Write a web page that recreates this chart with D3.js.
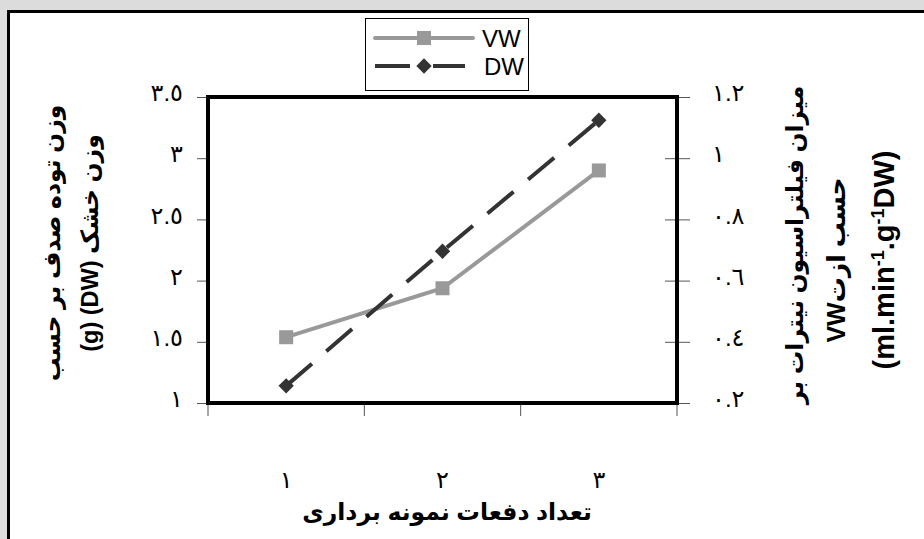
<!DOCTYPE html>
<html>
<head>
<meta charset="utf-8">
<script src="https://cdn.jsdelivr.net/npm/d3@7"></script>
<style>
  html, body { margin: 0; padding: 0; background: #dcdcdc; }
  svg { display: block; }
  text { font-family: "Liberation Sans", Arial, "DejaVu Sans", sans-serif; }
</style>
</head>
<body>
<svg id="chart" width="924" height="539"></svg>
<script>
// ---- data ----
const categories = ["1", "2", "3"];
const categoryLabels = ["١", "٢", "٣"];
const seriesNames = ["VW", "DW"];
const dwValues = [1.14, 2.24, 3.31];   // left axis
const vwValues = [0.415, 0.575, 0.96]; // right axis
const leftTicks = [1, 1.5, 2, 2.5, 3, 3.5];
const leftTickLabels = ["١", "١.٥", "٢", "٢.٥", "٣", "٣.٥"];
const rightTicks = [0.2, 0.4, 0.6, 0.8, 1.0, 1.2];
const rightTickLabels = ["٠.٢", "٠.٤", "٠.٦", "٠.٨", "١", "١.٢"];
const xTitle = "تعداد دفعات نمونه برداری";
const leftTitleLines = ["وزن توده صدف بر حسب", "وزن خشک (DW) (g)"];
const rightTitleLine1 = "میزان فیلتراسیون نیترات بر";
const rightTitleLine2 = "حسب ازتVW";

const svg = d3.select("#chart");

// outer frame
svg.append("rect").attr("x", 8.5).attr("y", 11.5).attr("width", 1000).attr("height", 600)
  .attr("fill", "#fff").attr("stroke", "#000").attr("stroke-width", 3);

const P = {left: 208, right: 677, top: 97, bottom: 403};

const x = d3.scaleBand().domain(categories).range([P.left, P.right]);
const yL = d3.scaleLinear().domain([1, 3.5]).range([P.bottom, P.top]);
const yR = d3.scaleLinear().domain([0.2, 1.2]).range([P.bottom, P.top]);
const cx = c => x(c) + x.bandwidth() / 2;

// left axis
const gL = svg.append("g").attr("transform", `translate(${P.left},0)`)
  .call(d3.axisLeft(yL).tickValues(leftTicks).tickSize(11).tickPadding(14)
    .tickFormat((d, i) => leftTickLabels[i]));
gL.select(".domain").remove();
gL.selectAll(".tick line").attr("stroke", "#555");
gL.selectAll(".tick text").attr("font-size", 24).attr("fill", "#000").attr("dy", "0.15em");

// right axis (ticks crossing)
const gR = svg.append("g").attr("transform", `translate(${P.right},0)`)
  .call(d3.axisRight(yR).tickValues(rightTicks).tickSize(13).tickPadding(22)
    .tickFormat((d, i) => rightTickLabels[i]));
gR.select(".domain").remove();
gR.selectAll(".tick line").attr("stroke", "#555").attr("x1", -12);
gR.selectAll(".tick text").attr("font-size", 24).attr("fill", "#000").attr("dy", "0.15em");

// bottom axis: boundary ticks
const boundaries = [P.left].concat(categories.map(c => x(c) + x.bandwidth()));
svg.append("g").selectAll("line").data(boundaries).join("line")
  .attr("x1", d => d).attr("x2", d => d).attr("y1", P.bottom).attr("y2", P.bottom + 13)
  .attr("stroke", "#555");
svg.append("g").selectAll("text").data(categories).join("text")
  .attr("x", d => cx(d)).attr("y", 488).attr("text-anchor", "middle")
  .attr("font-size", 24).text((d, i) => categoryLabels[i]);

// plot border
svg.append("rect").attr("x", P.left).attr("y", P.top)
  .attr("width", P.right - P.left).attr("height", P.bottom - P.top)
  .attr("fill", "none").attr("stroke", "#000").attr("stroke-width", 4);

// VW line (right axis)
const lineVW = d3.line().x((d, i) => cx(categories[i])).y(d => yR(d));
svg.append("path").datum(vwValues).attr("d", lineVW)
  .attr("fill", "none").attr("stroke", "#999").attr("stroke-width", 4);
svg.append("g").selectAll("rect").data(vwValues).join("rect")
  .attr("x", (d, i) => cx(categories[i]) - 7).attr("y", d => yR(d) - 7)
  .attr("width", 14).attr("height", 14).attr("fill", "#999");

// DW line (left axis)
const lineDW = d3.line().x((d, i) => cx(categories[i])).y(d => yL(d));
svg.append("path").datum(dwValues).attr("d", lineDW)
  .attr("fill", "none").attr("stroke", "#333").attr("stroke-width", 4)
  .attr("stroke-dasharray", "34,19");
const diamond = d3.symbol().type(d3.symbolDiamond2).size(150);
svg.append("g").selectAll("path").data(dwValues).join("path")
  .attr("transform", (d, i) => `translate(${cx(categories[i])},${yL(d)})`)
  .attr("d", diamond).attr("fill", "#333");

// legend
const lg = svg.append("g");
lg.append("rect").attr("x", 365.5).attr("y", 18.5).attr("width", 163).attr("height", 72)
  .attr("fill", "#fff").attr("stroke", "#000").attr("stroke-width", 1);
lg.append("line").attr("x1", 375).attr("x2", 473).attr("y1", 38).attr("y2", 38)
  .attr("stroke", "#999").attr("stroke-width", 4).attr("stroke-linecap", "round");
lg.append("rect").attr("x", 417).attr("y", 31).attr("width", 14).attr("height", 14).attr("fill", "#999");
lg.append("line").attr("x1", 375).attr("x2", 465).attr("y1", 66).attr("y2", 66)
  .attr("stroke", "#333").attr("stroke-width", 4).attr("stroke-dasharray", "35,23");
lg.append("path").attr("transform", "translate(424,66)").attr("d", diamond).attr("fill", "#333");
lg.append("text").attr("x", 482).attr("y", 47).attr("font-size", 24).text(seriesNames[0]);
lg.append("text").attr("x", 484).attr("y", 75).attr("font-size", 24).text(seriesNames[1]);

// x title
svg.append("text").attr("x", 447).attr("y", 520).attr("text-anchor", "middle")
  .attr("font-size", 23.5).attr("font-weight", "bold").attr("direction", "rtl")
  .text(xTitle);

// left title
const lt = svg.append("g");
leftTitleLines.forEach((t, i) => {
  lt.append("text").attr("transform", `translate(${60 + i * 38},243) rotate(-90)`)
    .attr("text-anchor", "middle").attr("font-size", 23.5).attr("font-weight", "bold")
    .attr("direction", "rtl").text(t);
});

// right title
const rt = svg.append("g");
rt.append("text").attr("transform", `translate(803,245) rotate(-90)`)
  .attr("text-anchor", "middle").attr("font-size", 23.5).attr("font-weight", "bold")
  .attr("direction", "rtl").text(rightTitleLine1);
rt.append("text").attr("transform", `translate(845,260) rotate(-90)`)
  .attr("text-anchor", "middle").attr("font-size", 25).attr("font-weight", "bold")
  .attr("direction", "rtl").text(rightTitleLine2);
const t3 = rt.append("text").attr("transform", `translate(894,260) rotate(-90)`)
  .attr("text-anchor", "middle").attr("font-size", 29).attr("font-weight", "bold");
t3.append("tspan").text("(ml.min");
t3.append("tspan").attr("baseline-shift", "super").attr("font-size", 18).text("-1");
t3.append("tspan").text(".g");
t3.append("tspan").attr("baseline-shift", "super").attr("font-size", 18).text("-1");
t3.append("tspan").text("DW)");
</script>
</body>
</html>
